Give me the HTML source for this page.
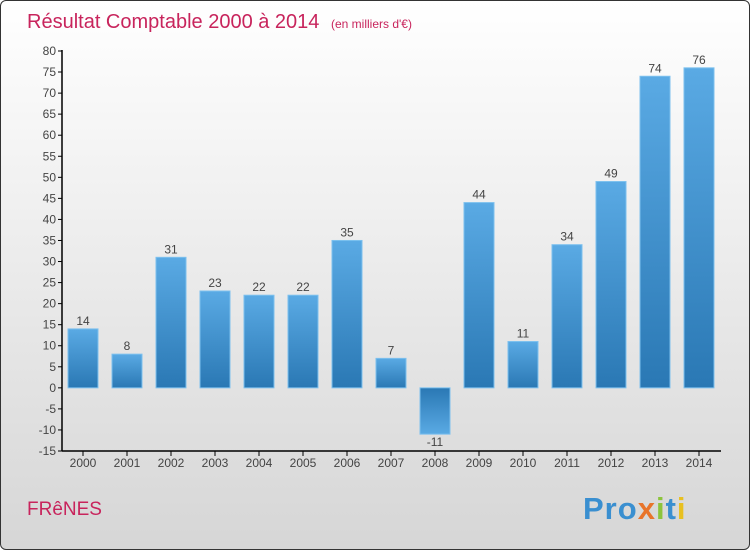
<!DOCTYPE html>
<html><head><meta charset="utf-8"><style>
body{margin:0;width:750px;height:550px;overflow:hidden;font-family:"Liberation Sans",sans-serif}
#wrap{position:absolute;left:0;top:0;width:748px;height:548px;border:1px solid #333;border-radius:6px;background:linear-gradient(#ffffff,#d6d6d6);overflow:hidden}
</style></head><body>
<div id="wrap">
<svg width="750" height="550">
<defs><linearGradient id="bg" x1="0" y1="0" x2="0" y2="1"><stop offset="0" stop-color="#5aaae4"/><stop offset="1" stop-color="#2a78b4"/></linearGradient>
<linearGradient id="bgn" x1="0" y1="0" x2="0" y2="1"><stop offset="0" stop-color="#2a78b4"/><stop offset="1" stop-color="#5aaae4"/></linearGradient></defs>
<text x="26" y="27" font-size="20" fill="#c8245c">Résultat Comptable 2000 à 2014 <tspan font-size="12" dx="6">(en milliers d'€)</tspan></text>
<g id="axes"></g><g id="bars"></g>
<text x="26" y="514" font-size="19" fill="#c8245c">FRêNES</text>
<text x="582" y="518" font-size="31" font-weight="bold" letter-spacing="1"><tspan fill="#3a8fd0">Pro</tspan><tspan fill="#e8742a">x</tspan><tspan fill="#8cc43c">i</tspan><tspan fill="#3a8fd0">t</tspan><tspan fill="#e8c020">i</tspan></text>
</svg></div>
<script>
const years=["2000","2001","2002","2003","2004","2005","2006","2007","2008","2009","2010","2011","2012","2013","2014"];
const values=[14,8,31,23,22,22,35,7,-11,44,11,34,49,74,76];
const yTicks=[80,75,70,65,60,55,50,45,40,35,30,25,20,15,10,5,0,-5,-10,-15];
const ns="http://www.w3.org/2000/svg";
const y=v=>50+(80-v)*400/95;
const x=i=>82+i*44;
function mk(t,a,p){const e=document.createElementNS(ns,t);for(const k in a)e.setAttribute(k,a[k]);p.appendChild(e);return e;}
const ax=document.getElementById('axes'),bs=document.getElementById('bars');
let l=mk('line',{x1:61,y1:49,x2:61,y2:450,stroke:'#000','stroke-width':1.5},ax);

l=mk('line',{x1:61,y1:450,x2:720,y2:450,stroke:'#000','stroke-width':1.5},ax);

yTicks.forEach(v=>{mk('line',{x1:57,x2:61,y1:y(v),y2:y(v),stroke:'#000'},ax);
const t=mk('text',{x:55,y:y(v)+4,'font-size':12,'text-anchor':'end',fill:'#444'},ax);t.textContent=v<0?'-'+(-v):v;
});
years.forEach((yr,i)=>{mk('line',{x1:x(i),x2:x(i),y1:450,y2:455,stroke:'#000'},ax);
const t=mk('text',{x:x(i),y:466,'font-size':12,'text-anchor':'middle',fill:'#444'},ax);t.textContent=yr;

const v=values[i],top=Math.min(y(v),y(0)),h=Math.abs(y(v)-y(0));
const r=mk('rect',{x:x(i)-15,y:top,width:30,height:h,fill:v<0?'url(#bgn)':'url(#bg)',stroke:'#7cc0ee','stroke-width':1},bs);

const lb=mk('text',{x:x(i),y:v<0?y(v)+12:y(v)-4,'font-size':12,'text-anchor':'middle',fill:'#444'},bs);lb.textContent=v<0?'-'+(-v):v;
});
</script></body></html>
